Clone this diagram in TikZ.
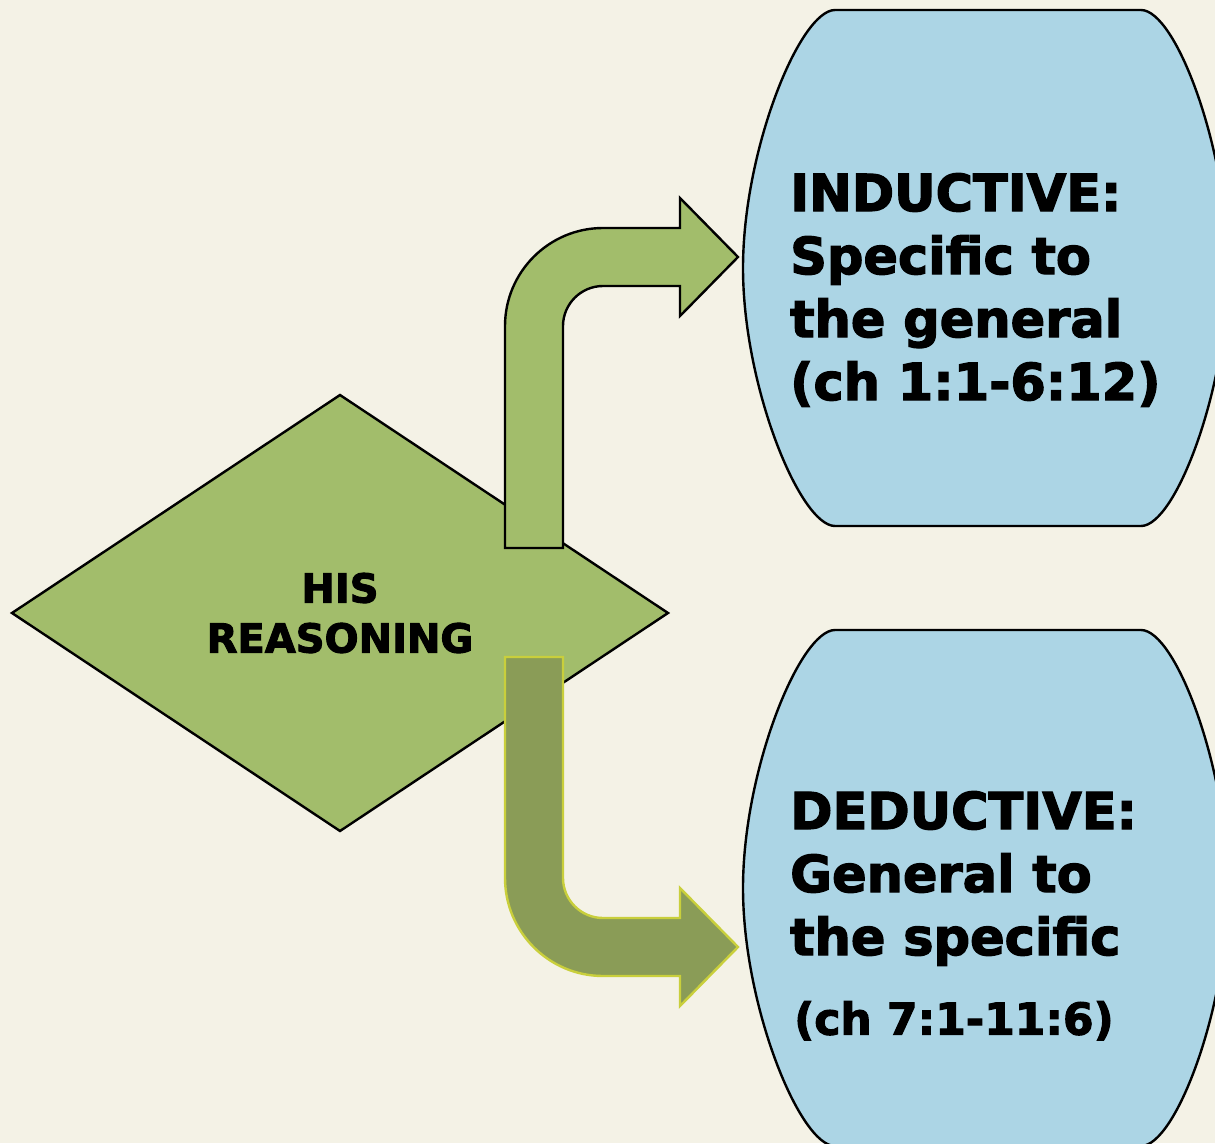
\documentclass[tikz,border=0pt]{standalone}
\usepackage{fontspec}
\setmainfont{DejaVu Sans}
\newfontfamily\heavy{DejaVu Sans Bold}[FakeBold=2.5]
\usepackage{tikz}
\usetikzlibrary{shapes,positioning}

\definecolor{paper}{HTML}{F4F2E6}
\definecolor{leaf}{HTML}{A2BD6B}
\definecolor{moss}{HTML}{8A9C57}
\definecolor{mossedge}{HTML}{C9CF3C}
\definecolor{sky}{HTML}{ACD5E5}

\begin{document}
\begin{tikzpicture}[x=1pt,y=-1pt,line width=2.4pt]
\fill[paper] (0,0) rectangle (1215,1143);
\useasboundingbox (0,0) rectangle (1215,1143);
\clip (0,0) rectangle (1215,1143);

\node[diamond,draw=black,fill=leaf,minimum width=657pt,minimum height=437pt,inner sep=0pt,
      align=center,font=\fontsize{40}{50}\selectfont\heavy] (reasoning) at (340,613)
{HIS\\REASONING};

% upper bent arrow
\draw[fill=leaf] (505,548) -- (505,326) .. controls (505,272) and (549,228) .. (603,228)
  -- (680,228) -- (680,198) -- (738,257) -- (680,316) -- (680,286) -- (603,286)
  .. controls (581,286) and (563,304) .. (563,326) -- (563,548) -- cycle;

% lower bent arrow
\draw[draw=mossedge,fill=moss] (505,657) -- (505,878) .. controls (505,932) and (549,976) .. (603,976)
  -- (680,976) -- (680,1006) -- (738,947) -- (680,888) -- (680,918) -- (603,918)
  .. controls (581,918) and (563,900) .. (563,878) -- (563,657) -- cycle;

\draw[fill=sky] (835,10) -- (1141,10) .. controls (1176,10) and (1228,150) .. (1228,268)
  .. controls (1228,386) and (1176,526) .. (1141,526) -- (835,526)
  .. controls (800,526) and (743,386) .. (743,268) .. controls (743,150) and (800,10) .. (835,10) -- cycle;

\draw[fill=sky] (835,630) -- (1141,630) .. controls (1176,630) and (1228,770) .. (1228,888)
  .. controls (1228,1006) and (1176,1146) .. (1141,1146) -- (835,1146)
  .. controls (800,1146) and (743,1006) .. (743,888) .. controls (743,770) and (800,630) .. (835,630) -- cycle;

\node[anchor=north west,inner sep=0pt,align=left,font=\fontsize{51}{63}\selectfont\heavy] (inductive) at (789,172)
{INDUCTIVE:\\Specific to\\the general\\(ch 1:1-6:12)};

\node[anchor=north west,inner sep=0pt,align=left,font=\fontsize{51}{63}\selectfont\heavy] (deductive) at (789,790)
{DEDUCTIVE:\\General to\\the specific};

\node[anchor=north west,inner sep=0pt,font=\fontsize{44}{50}\selectfont\heavy] (deductref) at (793,1000)
{(ch 7:1-11:6)};

\end{tikzpicture}
\end{document}
